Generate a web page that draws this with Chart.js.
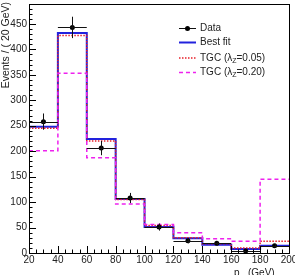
<!DOCTYPE html>
<html>
<head>
<meta charset="utf-8">
<script src="https://cdn.jsdelivr.net/npm/chart.js@4/dist/chart.umd.min.js"></script>
<style>
  body { margin: 0; background: #fff; }
  #wrap { width: 295px; height: 275px; }
</style>
</head>
<body>
<div id="wrap"><canvas id="c" width="295" height="275"></canvas></div>
<script>
// bordes de los bins (GeV)
const binEdges = [20, 40, 60, 80, 100, 120, 140, 160, 180, 200];
const binCenters = [30, 50, 70, 90, 110, 130, 150, 170, 190];

// datos y errores
const dataVals = [258, 443, 206, 108, 51, 24, 19, 4, 14];
const dataErr = [16, 21, 14, 10, 7, 5, 4, 2, 4];

// histogramas
const bestFit = [248, 432, 224, 106, 51, 29, 16, 8, 14];
const tgc005 = [245, 427, 220, 105, 54, 30, 18, 10, 23];
const tgc020 = [201, 353, 187, 96, 56, 40, 28, 23, 145];

// ticks de los ejes
const yTicks = [0, 50, 100, 150, 200, 250, 300, 350, 400, 450];
const xTicks = [20, 40, 60, 80, 100, 120, 140, 160, 180, 200];

const FONT = '"Liberation Sans", Arial, sans-serif';

// puntos con escalón a partir de los bordes
function stepPoints(vals) {
  const pts = vals.map((v, i) => ({ x: binEdges[i], y: v }));
  pts.push({ x: binEdges[binEdges.length - 1], y: vals[vals.length - 1] });
  return pts;
}

const legendItems = [
  { kind: 'data', text: 'Data' },
  { kind: 'line', color: '#2222dd', dash: [], width: 2, text: 'Best fit' },
  { kind: 'line', color: '#e8202a', dash: [1.5, 1.5], width: 1.5, text: 'TGC (λ', sub: 'Z', after: '=0.05)' },
  { kind: 'line', color: '#ee22ee', dash: [4, 3], width: 1.5, text: 'TGC (λ', sub: 'Z', after: '=0.20)' }
];

// marco, ticks, etiquetas, barras de error y leyenda
const decor = {
  id: 'decor',
  afterDatasetsDraw(chart) {
    const ctx = chart.ctx;
    const xs = chart.scales.x, ys = chart.scales.y;

    // barras de error de los datos
    ctx.save();
    ctx.strokeStyle = '#111';
    ctx.lineWidth = 1;
    dataVals.forEach((v, i) => {
      const px = Math.round(xs.getPixelForValue(binCenters[i])) + 0.5;
      const py = ys.getPixelForValue(v);
      ctx.beginPath();
      ctx.moveTo(xs.getPixelForValue(binEdges[i]), Math.round(py) + 0.5);
      ctx.lineTo(xs.getPixelForValue(binEdges[i + 1]), Math.round(py) + 0.5);
      ctx.moveTo(px, ys.getPixelForValue(v + dataErr[i]));
      ctx.lineTo(px, ys.getPixelForValue(v - dataErr[i]));
      ctx.stroke();
    });
    ctx.restore();
  },
  afterDraw(chart) {
    const ctx = chart.ctx;
    const xs = chart.scales.x, ys = chart.scales.y;
    const a = chart.chartArea;
    ctx.save();
    ctx.strokeStyle = '#000';
    ctx.lineWidth = 1;
    ctx.strokeRect(Math.round(a.left) + 0.5, Math.round(a.top) + 0.5,
      Math.round(a.right - a.left), Math.round(a.bottom - a.top));

    // ticks del eje y (hacia dentro)
    ctx.beginPath();
    for (let v = 0; v <= ys.max; v += 10) {
      const py = Math.round(ys.getPixelForValue(v)) + 0.5;
      const len = v % 50 === 0 ? 7 : 3.5;
      ctx.moveTo(a.left, py);
      ctx.lineTo(a.left + len, py);
    }
    // ticks del eje x
    for (let v = xs.min; v <= xs.max; v += 5) {
      const px = Math.round(xs.getPixelForValue(v)) + 0.5;
      const len = v % 20 === 0 ? 7 : 3.5;
      ctx.moveTo(px, a.bottom);
      ctx.lineTo(px, a.bottom - len);
    }
    ctx.stroke();

    ctx.fillStyle = '#222';
    ctx.font = '10px ' + FONT;
    ctx.textAlign = 'right';
    ctx.textBaseline = 'middle';
    yTicks.forEach(v => ctx.fillText(String(v), 27, ys.getPixelForValue(v)));
    ctx.textAlign = 'center';
    ctx.textBaseline = 'top';
    xTicks.forEach(v => ctx.fillText(String(v), xs.getPixelForValue(v), 255));

    // título del eje x (cortado por el borde inferior)
    ctx.textAlign = 'left';
    ctx.fillText('p', 234, 268);
    ctx.font = '7px ' + FONT;
    ctx.fillText('T', 240, 275);
    ctx.font = '10px ' + FONT;
    ctx.fillText('(GeV)', 248, 268);

    // título del eje y
    ctx.save();
    ctx.translate(6.5, 2);
    ctx.rotate(-Math.PI / 2);
    ctx.textAlign = 'right';
    ctx.textBaseline = 'middle';
    ctx.font = '10.5px ' + FONT;
    ctx.fillText('Events / ( 20 GeV)', 0, 0);
    ctx.restore();

    // leyenda
    const rowY = [28, 42.5, 58, 72.5];
    legendItems.forEach((it, i) => {
      const y = rowY[i];
      if (it.kind === 'data') {
        ctx.strokeStyle = '#111';
        ctx.lineWidth = 1;
        ctx.setLineDash([]);
        ctx.beginPath();
        ctx.moveTo(179, Math.round(y) + 0.5);
        ctx.lineTo(196, Math.round(y) + 0.5);
        ctx.stroke();
        ctx.fillStyle = '#000';
        ctx.beginPath();
        ctx.arc(187.5, Math.round(y) + 0.5, 2.5, 0, Math.PI * 2);
        ctx.fill();
      } else {
        ctx.strokeStyle = it.color;
        ctx.lineWidth = it.width;
        ctx.setLineDash(it.dash);
        ctx.beginPath();
        ctx.moveTo(179, y);
        ctx.lineTo(196, y);
        ctx.stroke();
        ctx.setLineDash([]);
      }
      ctx.fillStyle = '#222';
      ctx.font = '10px ' + FONT;
      ctx.textAlign = 'left';
      ctx.textBaseline = 'middle';
      ctx.fillText(it.text, 200, y);
      if (it.sub) {
        let w = ctx.measureText(it.text).width;
        ctx.font = '7px ' + FONT;
        ctx.fillText(it.sub, 200 + w, y + 3);
        w += ctx.measureText(it.sub).width;
        ctx.font = '10px ' + FONT;
        ctx.fillText(it.after, 200 + w, y);
      }
    });
    ctx.restore();
  }
};

new Chart(document.getElementById('c').getContext('2d'), {
  type: 'line',
  data: {
    datasets: [
      {
        label: 'Data',
        data: dataVals.map((v, i) => ({ x: binCenters[i], y: v })),
        showLine: false,
        pointRadius: 2.5,
        pointBackgroundColor: '#000',
        pointBorderWidth: 0,
        order: 0
      },
      {
        label: 'TGC (λZ=0.20)',
        data: stepPoints(tgc020),
        stepped: 'before',
        borderColor: '#ee22ee',
        borderWidth: 1.5,
        borderDash: [4, 3],
        pointRadius: 0,
        fill: false,
        order: 1
      },
      {
        label: 'TGC (λZ=0.05)',
        data: stepPoints(tgc005),
        stepped: 'before',
        borderColor: '#e8202a',
        borderWidth: 1.5,
        borderDash: [1.5, 1.5],
        pointRadius: 0,
        fill: false,
        order: 2
      },
      {
        label: 'Best fit',
        data: stepPoints(bestFit),
        stepped: 'before',
        borderColor: '#2222dd',
        borderWidth: 2,
        pointRadius: 0,
        fill: false,
        order: 3
      }
    ]
  },
  options: {
    responsive: false,
    animation: false,
    devicePixelRatio: 1,
    layout: { padding: { left: 29, right: 6, top: 3, bottom: 22 } },
    plugins: { legend: { display: false }, tooltip: { enabled: false } },
    scales: {
      x: { type: 'linear', min: 20, max: 200, display: false },
      y: { type: 'linear', min: 0, max: 489, display: false }
    }
  },
  plugins: [decor]
});
</script>
</body>
</html>
